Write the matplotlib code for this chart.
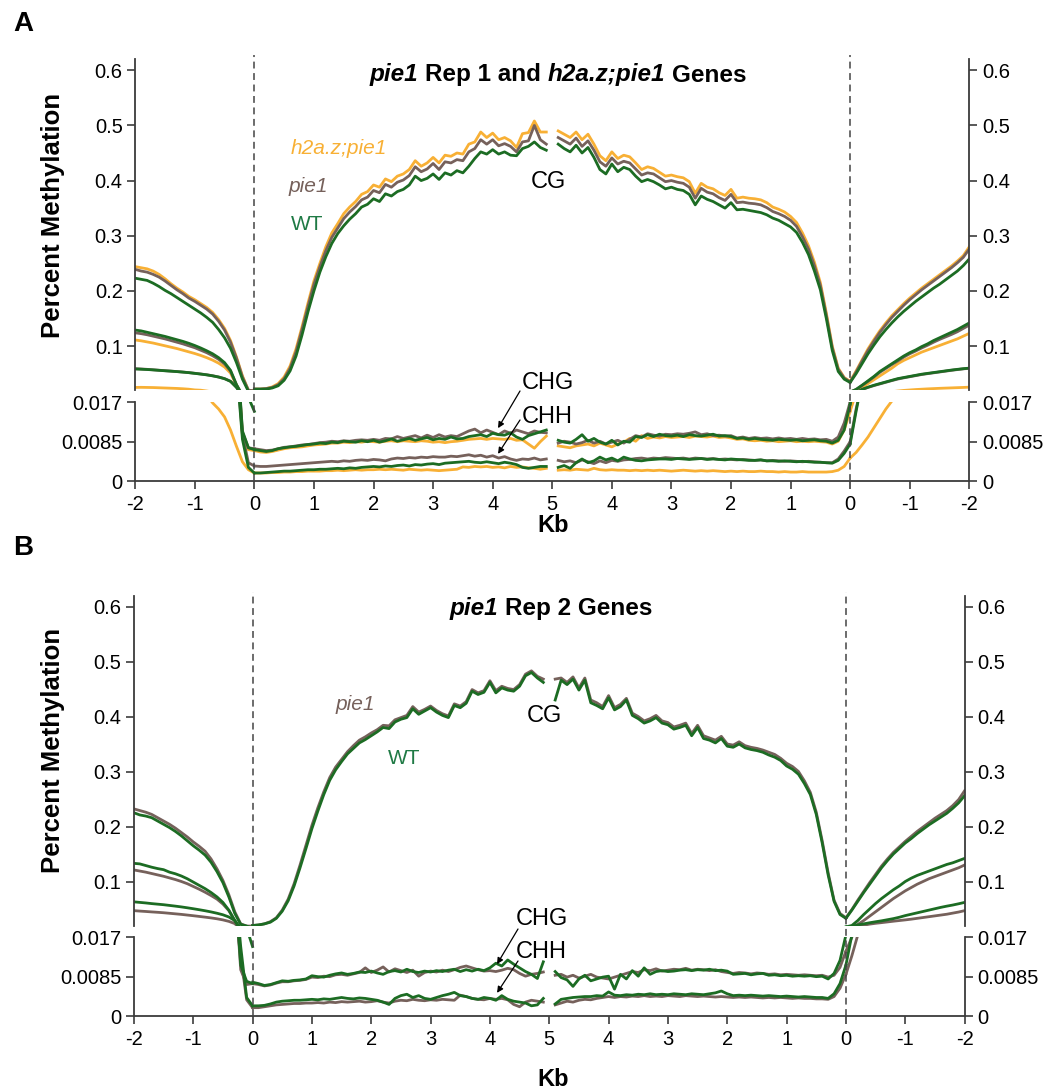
import numpy as np
import matplotlib
matplotlib.use('Agg')
import matplotlib.pyplot as plt
from matplotlib.lines import Line2D
from matplotlib.transforms import blended_transform_factory

plt.rcParams['font.family'] = ['Liberation Sans', 'DejaVu Sans']

W, H = 1057, 1090

# bin positions on the 14 kb wide axis: upstream | gene 5' half | gene 3' half | downstream
UP_X = np.round(np.arange(-20, 1) * 0.1, 1)
B5_X = np.round(np.arange(0, 50) * 0.1, 1)
B3_X = np.round(np.arange(51, 101) * 0.1, 1)
DN_X = np.round(np.arange(100, 121) * 0.1, 1)

X_TICKS = list(range(-2, 13))
X_LABELS = ['-2', '-1', '0', '1', '2', '3', '4', '5', '4', '3', '2', '1', '0', '-1', '-2']
UP_TICKS = [0.1, 0.2, 0.3, 0.4, 0.5, 0.6]
UP_LABELS = ['0.1', '0.2', '0.3', '0.4', '0.5', '0.6']
LO_TICKS = [0, 0.0085, 0.017]
LO_LABELS = ['0', '0.0085', '0.017']

# ---------------- panel A (CG in 1e-3, CHG/CHH in 1e-4) ----------------
A_CG_WT_UP = [223, 221, 219, 214, 208, 201, 195, 188, 181, 174, 167, 160, 152, 143, 130, 115, 96, 70, 40, 18, 15]
A_CG_PIE_UP = [239, 236, 234, 230, 225, 218, 210, 202, 195, 187, 181, 174, 167, 158, 145, 129, 107, 78, 44, 20, 19]
A_CG_HP_UP = [244, 242, 240, 236, 230, 222, 213, 205, 198, 190, 184, 177, 170, 161, 148, 132, 110, 80, 46, 20, 19]
A_CG_HP_B5 = [22, 22, 23, 26, 32, 44, 64, 95, 135, 178, 218, 250, 280, 305, 322, 340, 352, 362, 375, 380,
              392, 388, 403, 398, 408, 412, 420, 436, 426, 432, 442, 432, 446, 444, 450, 448, 466, 470, 488, 478,
              486, 474, 478, 472, 460, 485, 487, 508, 488, 488]
A_CG_PIE_B5 = [22, 22, 23, 25, 30, 41, 60, 90, 130, 172, 212, 244, 273, 297, 314, 331, 343, 353, 365, 370,
               382, 378, 393, 388, 397, 401, 409, 425, 416, 421, 431, 420, 434, 432, 438, 436, 452, 458, 474, 466,
               474, 463, 467, 462, 452, 470, 472, 500, 474, 466]
A_CG_WT_B5 = [22, 22, 22, 24, 28, 38, 55, 82, 120, 162, 200, 234, 262, 286, 304, 318, 330, 340, 352, 357,
              367, 362, 376, 372, 380, 384, 392, 408, 400, 404, 412, 402, 414, 410, 418, 414, 426, 440, 452, 448,
              456, 448, 452, 446, 445, 458, 462, 470, 460, 455]
A_CG_HP_B3 = [490, 484, 478, 488, 474, 484, 466, 445, 436, 452, 440, 446, 443, 432, 420, 425, 422, 415, 408, 410,
              407, 405, 398, 377, 395, 388, 385, 378, 373, 384, 368, 370, 368, 367, 365, 360, 352, 348, 343, 335,
              324, 305, 282, 252, 215, 160, 100, 60, 43, 36]
A_CG_PIE_B3 = [478, 472, 466, 477, 462, 472, 455, 434, 426, 441, 430, 435, 432, 421, 410, 414, 412, 405, 398, 400,
               397, 395, 388, 368, 386, 379, 376, 369, 364, 375, 360, 361, 359, 358, 356, 351, 344, 340, 335, 328,
               317, 298, 276, 246, 210, 156, 97, 58, 42, 35]
A_CG_WT_B3 = [466, 458, 452, 464, 450, 460, 442, 420, 412, 430, 416, 424, 420, 408, 398, 402, 398, 392, 385, 388,
              384, 382, 375, 356, 372, 366, 362, 356, 350, 360, 347, 348, 346, 344, 342, 338, 332, 328, 322, 316,
              306, 288, 266, 236, 202, 150, 92, 54, 40, 34]
A_CG_HP_DN = [36, 55, 75, 95, 112, 128, 142, 155, 166, 177, 187, 196, 205, 213, 221, 229, 237, 245, 254, 264, 280]
A_CG_PIE_DN = [35, 53, 73, 92, 109, 125, 139, 152, 163, 174, 184, 193, 202, 210, 218, 226, 234, 242, 251, 261, 276]
A_CG_WT_DN = [34, 50, 68, 86, 102, 117, 130, 142, 153, 163, 172, 181, 189, 197, 205, 212, 220, 228, 236, 246, 258]

A_CHG_WT_UP = [1290, 1275, 1250, 1225, 1200, 1175, 1145, 1115, 1085, 1050, 1010, 965, 915, 860, 790, 700, 560, 300, 108, 72, 68]
A_CHG_PIE_UP = [1240, 1225, 1205, 1180, 1155, 1130, 1100, 1070, 1040, 1005, 970, 925, 880, 825, 760, 675, 545, 295, 105, 72, 70]
A_CHG_HP_UP = [1110, 1095, 1075, 1055, 1030, 1005, 980, 955, 925, 895, 865, 830, 790, 745, 690, 620, 510, 290, 100, 68, 66]
A_CHG_WT_B5 = [68, 66, 64, 66, 70, 72, 74, 75, 77, 79, 80, 82, 81, 84, 83, 86, 85, 84, 87, 85,
               88, 84, 87, 91, 86, 89, 92, 88, 91, 94, 89, 92, 90, 95, 91, 92, 96, 98, 100, 96,
               103, 100, 99, 104, 95, 90, 98, 102, 106, 110]
A_CHG_PIE_B5 = [70, 68, 66, 67, 70, 73, 74, 76, 78, 79, 81, 83, 84, 86, 85, 87, 86, 88, 89, 88,
                90, 88, 92, 91, 96, 92, 95, 98, 93, 99, 94, 100, 95, 98, 96, 102, 108, 112, 104, 110,
                105, 100, 108, 103, 110, 106, 102, 108, 105, 104]
A_CHG_HP_B5 = [66, 63, 62, 64, 67, 70, 72, 73, 74, 76, 78, 79, 80, 82, 82, 84, 83, 85, 84, 86,
               85, 84, 86, 87, 85, 87, 86, 85, 87, 86, 84, 85, 83, 85, 86, 88, 90, 91, 92, 90,
               92, 91, 90, 92, 88, 89, 80, 71, 85, 97]
A_CHG_WT_B3 = [88, 84, 82, 90, 100, 86, 92, 84, 80, 88, 78, 86, 84, 96, 94, 100, 96, 101, 98, 97,
               99, 96, 100, 98, 97, 99, 101, 97, 98, 96, 92, 93, 90, 92, 90, 89, 88, 90, 89, 88,
               89, 87, 88, 89, 87, 86, 82, 88, 110, 165]
A_CHG_PIE_B3 = [82, 86, 84, 80, 83, 88, 82, 86, 80, 84, 88, 82, 90, 98, 95, 102, 99, 97, 101, 100,
                102, 101, 103, 106, 100, 102, 98, 99, 97, 98, 93, 95, 92, 94, 92, 93, 91, 93, 91, 92,
                90, 92, 90, 91, 89, 90, 86, 95, 125, 170]
A_CHG_HP_B3 = [76, 74, 72, 76, 78, 80, 76, 82, 78, 74, 80, 84, 92, 86, 98, 92, 95, 93, 96, 94,
               95, 96, 94, 97, 96, 95, 97, 94, 95, 93, 90, 91, 88, 87, 88, 86, 87, 85, 86, 87,
               85, 86, 85, 86, 85, 84, 80, 86, 110, 150]
A_CHG_WT_DN = [165, 215, 290, 370, 450, 540, 610, 680, 750, 820, 880, 930, 990, 1040, 1100, 1150, 1200, 1250, 1300, 1360, 1420]
A_CHG_PIE_DN = [170, 210, 285, 360, 440, 525, 595, 665, 730, 800, 860, 910, 965, 1015, 1070, 1120, 1165, 1210, 1260, 1320, 1380]
A_CHG_HP_DN = [150, 190, 250, 320, 390, 460, 530, 600, 680, 740, 790, 840, 890, 930, 970, 1010, 1050, 1090, 1130, 1180, 1230]

A_CHH_WT_UP = [585, 580, 575, 568, 560, 552, 545, 537, 528, 518, 505, 492, 478, 460, 438, 408, 360, 250, 90, 30, 18]
A_CHH_PIE_UP = [590, 585, 578, 570, 562, 554, 546, 538, 529, 519, 507, 494, 480, 462, 440, 410, 362, 255, 100, 40, 33]
A_CHH_HP_UP = [250, 252, 250, 248, 244, 240, 236, 232, 226, 218, 205, 200, 185, 168, 155, 138, 110, 75, 42, 25, 18]
A_CHH_WT_B5 = [18, 18, 19, 20, 21, 22, 22, 23, 24, 25, 25, 26, 26, 27, 28, 27, 29, 28, 30, 31,
               32, 31, 33, 32, 34, 35, 33, 36, 35, 37, 38, 36, 39, 40, 41, 42, 43, 41, 40, 42,
               40, 38, 41, 39, 36, 30, 28, 30, 32, 32]
A_CHH_PIE_B5 = [33, 32, 32, 33, 34, 35, 36, 37, 38, 39, 40, 41, 42, 43, 42, 44, 43, 45, 46, 45,
                47, 46, 44, 48, 50, 49, 51, 50, 52, 51, 53, 52, 52, 54, 53, 55, 57, 54, 56, 52,
                55, 50, 53, 48, 45, 48, 47, 50, 46, 48]
A_CHH_HP_B5 = [18, 18, 18, 19, 19, 20, 20, 21, 21, 22, 22, 22, 23, 23, 24, 23, 24, 25, 24, 25,
               25, 26, 25, 26, 25, 24, 26, 25, 24, 25, 24, 23, 24, 25, 26, 31, 30, 32, 31, 32,
               30, 31, 29, 32, 30, 31, 29, 28, 26, 28]
A_CHH_WT_B3 = [30, 34, 28, 40, 48, 40, 44, 52, 46, 50, 44, 52, 48, 45, 44, 46, 47, 48, 48, 47,
               49, 48, 47, 48, 49, 47, 48, 47, 46, 48, 47, 46, 45, 45, 46, 44, 44, 43, 44, 43,
               42, 43, 42, 41, 41, 40, 39, 45, 60, 80]
A_CHH_PIE_B3 = [45, 42, 44, 40, 46, 42, 38, 44, 40, 45, 43, 46, 47, 49, 50, 48, 50, 49, 51, 50,
                49, 50, 48, 50, 49, 48, 49, 47, 48, 47, 46, 47, 46, 45, 46, 44, 45, 44, 43, 44,
                43, 42, 43, 42, 41, 40, 40, 48, 65, 85]
A_CHH_HP_B3 = [24, 25, 24, 26, 25, 24, 28, 25, 24, 25, 24, 24, 23, 24, 23, 24, 23, 24, 23, 22,
               23, 24, 23, 22, 23, 22, 23, 22, 21, 22, 21, 22, 21, 21, 22, 21, 21, 20, 21, 20,
               20, 21, 20, 20, 20, 20, 21, 24, 32, 50]
A_CHH_WT_DN = [80, 150, 215, 255, 290, 320, 350, 380, 410, 430, 450, 470, 490, 505, 520, 535, 550, 565, 578, 590, 600]
A_CHH_PIE_DN = [85, 155, 212, 250, 284, 314, 344, 374, 402, 424, 444, 464, 484, 500, 515, 530, 545, 560, 574, 587, 598]
A_CHH_HP_DN = [50, 62, 78, 95, 115, 135, 155, 172, 185, 196, 204, 212, 218, 224, 229, 234, 238, 242, 246, 250, 255]

# ---------------- panel B ----------------
B_CG_WT_UP = [225, 221, 219, 216, 210, 204, 198, 191, 183, 174, 165, 157, 148, 135, 118, 98, 72, 42, 22, 19, 15]
B_CG_PIE_UP = [232, 229, 226, 222, 216, 210, 204, 197, 189, 181, 172, 164, 155, 141, 123, 102, 76, 45, 23, 19, 19]
B_CG_WT_B5 = [20, 21, 23, 26, 33, 46, 65, 92, 125, 160, 196, 228, 258, 284, 303, 318, 332, 342, 352, 358,
              365, 372, 380, 378, 390, 395, 398, 414, 404, 410, 416, 408, 402, 398, 420, 416, 424, 446, 440, 444,
              462, 443, 452, 448, 446, 455, 474, 480, 470, 462]
B_CG_PIE_B5 = [20, 21, 23, 27, 34, 48, 68, 96, 130, 166, 202, 234, 263, 289, 308, 322, 336, 347, 357, 363,
               370, 376, 384, 383, 394, 398, 402, 418, 408, 413, 419, 411, 405, 401, 423, 419, 427, 449, 443, 447,
               465, 447, 455, 451, 449, 458, 477, 483, 473, 468]
B_CG_WT_B3 = [430, 466, 458, 468, 448, 466, 425, 420, 414, 434, 412, 418, 430, 402, 396, 388, 392, 398, 388, 385,
              377, 380, 384, 365, 380, 360, 357, 352, 360, 346, 344, 350, 343, 340, 338, 335, 330, 326, 320, 310,
              304, 295, 278, 258, 222, 170, 112, 64, 40, 33]
B_CG_PIE_B3 = [468, 470, 462, 472, 452, 470, 430, 425, 418, 438, 416, 422, 433, 406, 400, 392, 396, 402, 392, 389,
               381, 384, 388, 369, 384, 365, 361, 357, 364, 350, 348, 354, 347, 344, 342, 339, 335, 331, 324, 315,
               309, 300, 283, 262, 226, 174, 116, 66, 42, 34]
B_CG_WT_DN = [33, 48, 64, 80, 95, 110, 125, 138, 150, 160, 170, 178, 187, 195, 203, 210, 217, 224, 233, 243, 256]
B_CG_PIE_DN = [34, 49, 66, 82, 98, 113, 128, 141, 153, 163, 173, 182, 191, 199, 207, 215, 222, 229, 238, 249, 265]

B_CHG_WT_UP = [1330, 1320, 1290, 1260, 1235, 1215, 1170, 1140, 1100, 1050, 990, 930, 870, 800, 720, 620, 480, 290, 110, 75, 70]
B_CHG_PIE_UP = [1210, 1190, 1170, 1145, 1120, 1095, 1065, 1035, 1000, 960, 910, 860, 805, 745, 680, 590, 470, 290, 100, 68, 70]
B_CHG_WT_B5 = [73, 70, 66, 68, 72, 76, 75, 77, 78, 80, 87, 85, 84, 88, 91, 93, 90, 92, 95, 94,
               97, 93, 90, 96, 98, 95, 101, 96, 94, 97, 95, 98, 96, 99, 101, 96, 100, 97, 101, 98,
               104, 114, 108, 121, 112, 104, 96, 90, 81, 117]
B_CHG_PIE_B5 = [70, 68, 65, 67, 71, 74, 74, 76, 77, 79, 84, 83, 86, 85, 89, 90, 88, 91, 94, 104,
                94, 99, 106, 95, 102, 98, 94, 99, 86, 94, 97, 95, 99, 96, 100, 105, 108, 104, 100, 97,
                98, 96, 99, 103, 100, 92, 86, 90, 92, 95]
B_CHG_WT_B3 = [96, 83, 78, 64, 80, 88, 76, 80, 84, 86, 58, 90, 80, 98, 86, 104, 90, 96, 98, 96,
               97, 99, 100, 98, 100, 99, 101, 98, 99, 97, 90, 91, 92, 89, 91, 92, 88, 89, 87, 88,
               86, 87, 86, 87, 85, 86, 80, 92, 120, 175]
B_CHG_PIE_B3 = [88, 90, 84, 88, 82, 86, 90, 84, 82, 80, 84, 88, 92, 96, 94, 100, 98, 102, 97, 99,
                101, 100, 103, 99, 101, 100, 98, 100, 96, 94, 92, 94, 93, 91, 93, 92, 90, 91, 89, 90,
                89, 88, 89, 88, 87, 88, 84, 88, 105, 140]
B_CHG_WT_DN = [175, 200, 290, 400, 500, 600, 690, 770, 850, 920, 1000, 1060, 1110, 1150, 1190, 1230, 1270, 1310, 1340, 1380, 1420]
B_CHG_PIE_DN = [140, 170, 220, 290, 370, 450, 530, 610, 690, 760, 830, 890, 950, 1000, 1050, 1090, 1130, 1170, 1210, 1250, 1300]

B_CHH_WT_UP = [630, 620, 610, 598, 588, 578, 565, 552, 538, 522, 505, 487, 468, 447, 423, 395, 355, 290, 150, 40, 22]
B_CHH_PIE_UP = [470, 462, 455, 447, 440, 432, 422, 412, 402, 390, 378, 365, 352, 338, 322, 302, 275, 235, 130, 35, 18]
B_CHH_WT_B5 = [22, 22, 23, 26, 30, 32, 33, 34, 34, 35, 36, 35, 37, 36, 38, 40, 38, 37, 39, 38,
               36, 34, 30, 25, 38, 44, 47, 40, 44, 38, 36, 40, 44, 47, 51, 44, 42, 38, 36, 40,
               38, 34, 44, 36, 32, 30, 28, 22, 24, 38]
B_CHH_PIE_B5 = [18, 18, 20, 22, 24, 25, 26, 27, 27, 28, 28, 29, 28, 30, 29, 31, 30, 31, 32, 30,
                31, 33, 30, 28, 32, 34, 33, 36, 34, 33, 35, 34, 36, 35, 34, 45, 42, 38, 36, 35,
                38, 36, 38, 35, 25, 20, 30, 34, 32, 30]
B_CHH_WT_B3 = [26, 36, 38, 40, 41, 42, 42, 44, 43, 52, 45, 44, 46, 45, 47, 46, 48, 46, 47, 46,
               48, 47, 46, 48, 47, 46, 48, 50, 54, 48, 44, 45, 44, 45, 44, 43, 44, 43, 42, 43,
               42, 41, 42, 41, 40, 40, 38, 48, 70, 110]
B_CHH_PIE_B3 = [24, 28, 32, 30, 34, 36, 35, 38, 40, 42, 40, 42, 41, 43, 42, 44, 42, 43, 42, 44,
                43, 42, 44, 43, 42, 43, 42, 41, 42, 41, 40, 41, 40, 41, 40, 39, 40, 39, 40, 39,
                38, 39, 38, 38, 37, 37, 36, 42, 60, 90]
B_CHH_WT_DN = [110, 175, 210, 230, 250, 268, 285, 305, 325, 350, 380, 405, 430, 455, 480, 505, 530, 552, 572, 595, 620]
B_CHH_PIE_DN = [90, 130, 175, 205, 225, 240, 252, 265, 278, 290, 302, 315, 330, 345, 360, 375, 390, 405, 425, 445, 470]

C_WT = '#1c6c23'
C_PIE = '#76615b'
C_HP = '#f8b035'
SPINE = '#3c3c3c'


def segs(up, b5, b3, dn, k):
    return [(UP_X, np.asarray(up) * k), (B5_X, np.asarray(b5) * k),
            (B3_X, np.asarray(b3) * k), (DN_X, np.asarray(dn) * k)]


A_TRACES = [
    (C_HP, segs(A_CG_HP_UP, A_CG_HP_B5, A_CG_HP_B3, A_CG_HP_DN, 1e-3)),
    (C_HP, segs(A_CHG_HP_UP, A_CHG_HP_B5, A_CHG_HP_B3, A_CHG_HP_DN, 1e-4)),
    (C_HP, segs(A_CHH_HP_UP, A_CHH_HP_B5, A_CHH_HP_B3, A_CHH_HP_DN, 1e-4)),
    (C_PIE, segs(A_CG_PIE_UP, A_CG_PIE_B5, A_CG_PIE_B3, A_CG_PIE_DN, 1e-3)),
    (C_PIE, segs(A_CHG_PIE_UP, A_CHG_PIE_B5, A_CHG_PIE_B3, A_CHG_PIE_DN, 1e-4)),
    (C_PIE, segs(A_CHH_PIE_UP, A_CHH_PIE_B5, A_CHH_PIE_B3, A_CHH_PIE_DN, 1e-4)),
    (C_WT, segs(A_CG_WT_UP, A_CG_WT_B5, A_CG_WT_B3, A_CG_WT_DN, 1e-3)),
    (C_WT, segs(A_CHG_WT_UP, A_CHG_WT_B5, A_CHG_WT_B3, A_CHG_WT_DN, 1e-4)),
    (C_WT, segs(A_CHH_WT_UP, A_CHH_WT_B5, A_CHH_WT_B3, A_CHH_WT_DN, 1e-4)),
]
B_TRACES = [
    (C_PIE, segs(B_CG_PIE_UP, B_CG_PIE_B5, B_CG_PIE_B3, B_CG_PIE_DN, 1e-3)),
    (C_PIE, segs(B_CHG_PIE_UP, B_CHG_PIE_B5, B_CHG_PIE_B3, B_CHG_PIE_DN, 1e-4)),
    (C_PIE, segs(B_CHH_PIE_UP, B_CHH_PIE_B5, B_CHH_PIE_B3, B_CHH_PIE_DN, 1e-4)),
    (C_WT, segs(B_CG_WT_UP, B_CG_WT_B5, B_CG_WT_B3, B_CG_WT_DN, 1e-3)),
    (C_WT, segs(B_CHG_WT_UP, B_CHG_WT_B5, B_CHG_WT_B3, B_CHG_WT_DN, 1e-4)),
    (C_WT, segs(B_CHH_WT_UP, B_CHH_WT_B5, B_CHH_WT_B3, B_CHH_WT_DN, 1e-4)),
]

fig = plt.figure(figsize=(W / 100, H / 100), dpi=100)


def fx(px):
    return px / W


def fy(py):
    return 1 - py / H


def panel(left, right, top, up_bot, lo_top, bottom, traces):
    wd = fx(right) - fx(left)
    ax_up = fig.add_axes([fx(left), fy(up_bot), wd, fy(top) - fy(up_bot)])
    ax_lo = fig.add_axes([fx(left), fy(bottom), wd, fy(lo_top) - fy(bottom)])
    for ax in (ax_up, ax_lo):
        for color, parts in traces:
            for xs, ys in parts:
                ax.plot(xs, ys, color=color, lw=2.0, solid_joinstyle='round')
        ax.set_xlim(-2, 12)
        ax.spines['top'].set_visible(False)
        for s in ('left', 'right', 'bottom'):
            ax.spines[s].set_color(SPINE)
            ax.spines[s].set_linewidth(1.3)
        ax.tick_params(axis='y', left=True, right=True, labelleft=True, labelright=True,
                       direction='out', length=6, width=1.2, color=SPINE, labelsize=14.5, pad=3)
    ax_up.spines['bottom'].set_visible(False)
    ax_up.tick_params(axis='x', bottom=False, labelbottom=False)
    ax_up.set_ylim(0.02, 0.62)
    ax_up.set_yticks(UP_TICKS)
    ax_up.set_yticklabels(UP_LABELS)
    ax_lo.set_ylim(0, 0.017)
    ax_lo.set_yticks(LO_TICKS)
    ax_lo.set_yticklabels(LO_LABELS)
    ax_lo.set_xticks(X_TICKS)
    ax_lo.set_xticklabels(X_LABELS)
    ax_lo.tick_params(axis='x', direction='out', length=6, width=1.2, color=SPINE,
                      labelsize=14.5, pad=4)
    # dashed gene boundaries run through the axis break
    tr = blended_transform_factory(ax_lo.transData, fig.transFigure)
    for xv in (0, 10):
        fig.add_artist(Line2D([xv, xv], [fy(bottom), fy(top - 4)], transform=tr,
                              color='#444444', lw=1.1, dashes=(4.5, 3)))
    return ax_up, ax_lo


def rich_title(cx, cy, parts, size):
    renderer = fig.canvas.get_renderer()
    gap = 0.278 * size * 100 / 72
    texts = [fig.text(0, fy(cy), s, fontsize=size, fontweight='bold', fontstyle=st,
                      ha='left', va='center') for s, st in parts]
    widths = [t.get_window_extent(renderer).width for t in texts]
    x = cx - (sum(widths) + gap * (len(parts) - 1)) / 2
    for t, w in zip(texts, widths):
        t.set_x(fx(x))
        x += w + gap


def label(px, py, s, color='black', size=15, style='normal'):
    fig.text(fx(px), fy(py), s, color=color, fontsize=size, fontstyle=style,
             ha='left', va='center')


def arrow(ax, tip, start):
    ax.annotate('', xy=tip, xycoords='data', xytext=(fx(start[0]), fy(start[1])),
                textcoords='figure fraction',
                arrowprops=dict(arrowstyle='-|>', color='black', lw=0.9,
                                mutation_scale=9, shrinkA=0, shrinkB=0))


# panel A
aA_up, aA_lo = panel(135.2, 969.3, 59.2, 390.2, 402.0, 481.4, A_TRACES)
fig.text(fx(23), fy(24), 'A', fontsize=20, fontweight='bold', ha='center', va='center')
fig.text(fx(53), fy(215), 'Percent Methylation', rotation=90, fontsize=18.5,
         fontweight='bold', ha='center', va='center')
fig.text(fx(553), fy(525), 'Kb', fontsize=17, fontweight='bold', ha='center', va='center')
rich_title(558, 75, [('pie1', 'italic'), ('Rep 1 and', 'normal'),
                     ('h2a.z;pie1', 'italic'), ('Genes', 'normal')], 17.5)
label(291, 149, 'h2a.z;pie1', C_HP, 15, 'italic')
label(289, 186, 'pie1', C_PIE, 15, 'italic')
label(291, 224, 'WT', '#1f7a45', 15)
label(531, 182, 'CG', 'black', 17)
label(522, 383, 'CHG', 'black', 17)
label(522, 417, 'CHH', 'black', 17)
arrow(aA_lo, (4.09, 0.0114), (520, 391))
arrow(aA_lo, (4.09, 0.0059), (520, 420))

# panel B
aB_up, aB_lo = panel(133.9, 964.6, 595.5, 925.5, 937.3, 1016.0, B_TRACES)
fig.text(fx(23), fy(548), 'B', fontsize=20, fontweight='bold', ha='center', va='center')
fig.text(fx(53), fy(750), 'Percent Methylation', rotation=90, fontsize=18.5,
         fontweight='bold', ha='center', va='center')
fig.text(fx(553), fy(1079), 'Kb', fontsize=17, fontweight='bold', ha='center', va='center')
rich_title(551, 609, [('pie1', 'italic'), ('Rep 2 Genes', 'normal')], 17.5)
label(336, 704, 'pie1', C_PIE, 15, 'italic')
label(388, 759, 'WT', '#1f7a45', 15)
label(527, 716, 'CG', 'black', 17)
label(516, 919, 'CHG', 'black', 17)
label(516, 952, 'CHH', 'black', 17)
arrow(aB_lo, (4.12, 0.0112), (518, 929))
arrow(aB_lo, (4.12, 0.0050), (518, 961))

fig.savefig('out.png', dpi=100)
